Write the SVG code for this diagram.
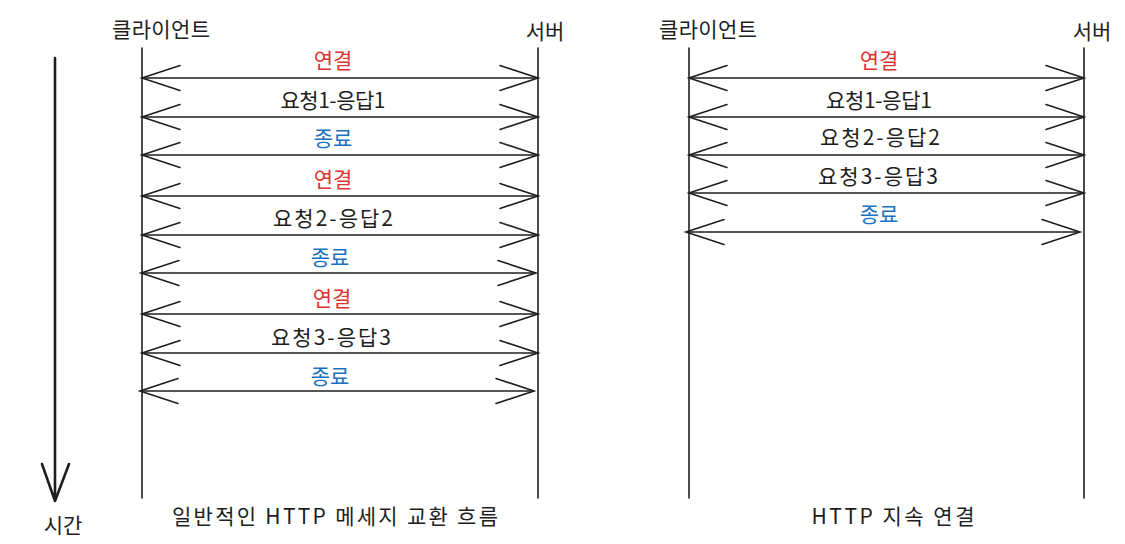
<svg xmlns="http://www.w3.org/2000/svg" width="1125" height="544" viewBox="0 0 1125 544">
<style>
text{font-family:"Noto Sans CJK KR","Noto Sans",sans-serif;font-size:21px;text-anchor:middle;dominant-baseline:central;fill:#1e1e1e}
.r{fill:#e03131}
.b{fill:#1971c2}
.ln{stroke:#1e1e1e;stroke-width:1.6;fill:none;stroke-linecap:round}
.tm{stroke:#1e1e1e;stroke-width:2.6;fill:none;stroke-linecap:round;stroke-linejoin:round}
.ar{stroke:#1e1e1e;stroke-width:1.6;fill:none;marker-start:url(#ah);marker-end:url(#ah)}
</style>
<defs>
<marker id="ah" markerUnits="userSpaceOnUse" markerWidth="42" markerHeight="30" viewBox="0 0 42 30" refX="39" refY="15" orient="auto-start-reverse" overflow="visible">
<path d="M1,2.5 L39,15 L1,27.5" fill="none" stroke="#1e1e1e" stroke-width="1.6" stroke-linecap="round"/>
</marker>
</defs>
<rect width="1125" height="544" fill="#ffffff"/>
<g id="time">
<path class="tm" d="M55,58 L55,501 M42,464 L55,501 L69,464"/>
<text x="63" y="524">시간</text>
</g>
<g id="left-client"><text x="161" y="28" textLength="98">클라이언트</text><path class="ln" d="M142,48 L142,498"/></g>
<g id="left-server"><text x="545" y="30">서버</text><path class="ln" d="M538,48 L538,498"/></g>
<g id="right-client"><text x="708" y="28" textLength="98">클라이언트</text><path class="ln" d="M689,48 L689,498"/></g>
<g id="right-server"><text x="1092" y="30">서버</text><path class="ln" d="M1084,48 L1084,498"/></g>
<g id="connectors">
<path class="ar" d="M142,78 L538,78"/>
<path class="ar" d="M142,117 L538,117"/>
<path class="ar" d="M142,155 L538,155"/>
<path class="ar" d="M142,196 L538,196"/>
<path class="ar" d="M142,235 L538,235"/>
<path class="ar" d="M141,273 L536,273"/>
<path class="ar" d="M142,314 L538,314"/>
<path class="ar" d="M142,353 L538,353"/>
<path class="ar" d="M140,391 L534,391"/>
<path class="ar" d="M689,78 L1084,78"/>
<path class="ar" d="M689,117 L1084,117"/>
<path class="ar" d="M689,155 L1084,155"/>
<path class="ar" d="M689,193 L1084,193"/>
<path class="ar" d="M686,232 L1080,232"/>
</g>
<g id="left-labels">
<text class="r" x="333" y="59">연결</text>
<text x="333" y="99" textLength="105">요청1-응답1</text>
<text class="b" x="333" y="137">종료</text>
<text class="r" x="333" y="178">연결</text>
<text x="333" y="217" textLength="120">요청2-응답2</text>
<text class="b" x="330" y="256">종료</text>
<text class="r" x="332" y="297">연결</text>
<text x="331" y="336" textLength="120">요청3-응답3</text>
<text class="b" x="330" y="375">종료</text>
</g>
<g id="right-labels">
<text class="r" x="879" y="59">연결</text>
<text x="879" y="99" textLength="106">요청1-응답1</text>
<text x="880" y="136" textLength="120">요청2-응답2</text>
<text x="878" y="175" textLength="120">요청3-응답3</text>
<text class="b" x="879" y="213">종료</text>
</g>
<g id="titles">
<text x="335" y="515" textLength="326">일반적인 HTTP 메세지 교환 흐름</text>
<text x="893" y="515" textLength="163">HTTP 지속 연결</text>
</g>
</svg>
